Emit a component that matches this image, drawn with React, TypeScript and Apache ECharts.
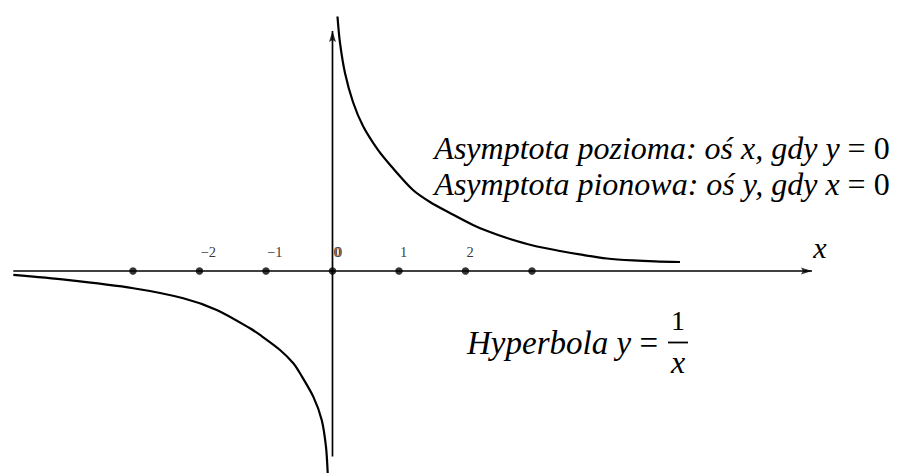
import React, { useEffect, useRef } from "react";
import * as echarts from "echarts";

// Hyperbola branches (data units, 1 unit ≈ 66.5 px)
const rightBranchX = [0.075, 0.113, 0.188, 0.308, 0.459, 0.684, 0.88, 1.211, 1.466, 1.767, 2.113, 2.368, 2.624, 3.015, 3.421, 3.767, 4.128, 4.519, 4.85, 5.226];
const rightBranchY = [3.827, 3.429, 2.977, 2.541, 2.18, 1.82, 1.579, 1.218, 1.038, 0.872, 0.692, 0.586, 0.496, 0.383, 0.301, 0.241, 0.188, 0.158, 0.143, 0.135];
const leftBranchX = [-4.8, -3.997, -2.995, -2.244, -1.741, -1.241, -1.09, -0.789, -0.589, -0.489, -0.289, -0.162, -0.098, -0.072];
const leftBranchY = [-0.06, -0.135, -0.26, -0.411, -0.586, -0.862, -0.962, -1.188, -1.388, -1.538, -1.89, -2.241, -2.642, -3.038];

// Points marked on the x axis
const dotXs = [-3, -2, -1, 0, 1, 2, 3];
// Tick labels
const tickValues = [-2, -1, 0, 1, 2];
const tickLabels = ["−2", "−1", "0", "1", "2"];

// Drawn axis extents
const xAxisExtent = [-4.8, 7.21];
const yAxisExtent = [-2.79, 3.61];

// Visible window
const xRange = [-5, 8.79];
const yRange = [-3.038, 4.075];

const serif = "Liberation Serif";

const asymText =
  "{i|Asymptota pozioma: oś x, gdy y}{r| = 0}\n{i|Asymptota pionowa: oś y, gdy x}{r| = 0}";

export default function App() {
  const ref = useRef<HTMLDivElement>(null);

  useEffect(() => {
    if (!ref.current) return;
    const chart = echarts.init(ref.current, undefined, { renderer: "svg" });
    const black = "#000";
    const rich = (size: number, lh: number) => ({
      i: { fontFamily: serif, fontStyle: "italic", fontSize: size, lineHeight: lh, fill: black, color: black },
      r: { fontFamily: serif, fontStyle: "normal", fontSize: size, lineHeight: lh, fill: black, color: black },
    });
    const tickLabel = (dx: number, dy: number) => ({
      show: true,
      formatter: (p: any) => p.name,
      position: [dx, dy],
      align: "left",
      verticalAlign: "middle",
      fontFamily: serif,
      fontSize: 14.5,
      color: black,
      textBorderWidth: 0,
    });

    chart.setOption({
      animation: false,
      grid: { left: 0, right: 0, top: 0, bottom: 0, containLabel: false },
      xAxis: { type: "value", min: xRange[0], max: xRange[1], show: false },
      yAxis: { type: "value", min: yRange[0], max: yRange[1], show: false },
      series: [
        {
          type: "line",
          data: [[xAxisExtent[0], 0], [xAxisExtent[1], 0]],
          symbol: "none",
          lineStyle: { color: black, width: 1.7 },
          silent: true,
        },
        {
          type: "line",
          data: [[0, yAxisExtent[0]], [0, yAxisExtent[1]]],
          symbol: "none",
          lineStyle: { color: black, width: 1.7 },
          silent: true,
        },
        {
          type: "scatter",
          silent: true,
          itemStyle: { color: black },
          data: [
            {
              value: [xAxisExtent[1], 0],
              symbol: "path://M0,0L11,3.5L0,7L2,3.5Z",
              symbolSize: [11, 7],
              symbolOffset: [-5.5, 0],
            },
            {
              value: [0, yAxisExtent[1]],
              symbol: "path://M3.5,0L7,11L3.5,9L0,11Z",
              symbolSize: [7, 11],
              symbolOffset: [0, 5.5],
            },
          ],
        },
        {
          type: "line",
          data: leftBranchX.map((x, i) => [x, leftBranchY[i]]),
          symbol: "none",
          smooth: 0.3,
          lineStyle: { color: black, width: 2.2 },
          silent: true,
        },
        {
          type: "line",
          data: rightBranchX.map((x, i) => [x, rightBranchY[i]]),
          symbol: "none",
          smooth: 0.3,
          lineStyle: { color: black, width: 2.2 },
          silent: true,
        },
        {
          type: "scatter",
          data: dotXs.map((x) => [x, 0]),
          symbol: "circle",
          symbolSize: 7.5,
          itemStyle: { color: black },
          silent: true,
          z: 5,
        },
        {
          type: "scatter",
          data: tickValues.map((x, i) => ({ value: [x, 0], name: tickLabels[i] })),
          symbolSize: 1,
          itemStyle: { color: "rgba(0,0,0,0)" },
          silent: true,
          label: tickLabel(1.5, -18),
        },
        {
          type: "scatter",
          data: [{ value: [0, 0], name: "0" }],
          symbolSize: 1,
          itemStyle: { color: "rgba(0,0,0,0)" },
          silent: true,
          label: tickLabel(3, -18.5),
        },
      ],
      graphic: [
        {
          type: "text",
          x: 662,
          y: 166,
          style: { text: asymText, rich: rich(32, 35.5), align: "center", verticalAlign: "middle", fill: black },
        },
        {
          type: "text",
          x: 467,
          y: 343,
          style: { text: "Hyperbola y", fontFamily: serif, fontStyle: "italic", fontSize: 33, align: "left", verticalAlign: "middle", fill: black },
        },
        {
          type: "text",
          x: 658,
          y: 343,
          style: { text: "=", fontFamily: serif, fontSize: 33, align: "right", verticalAlign: "middle", fill: black },
        },
        {
          type: "text",
          x: 678,
          y: 320,
          style: { text: "1", fontFamily: serif, fontSize: 28, align: "center", verticalAlign: "middle", fill: black },
        },
        {
          type: "line",
          shape: { x1: 668, y1: 342.5, x2: 688, y2: 342.5 },
          style: { stroke: black, lineWidth: 1.8 },
        },
        {
          type: "text",
          x: 678,
          y: 362,
          style: { text: "x", fontFamily: serif, fontStyle: "italic", fontSize: 32, align: "center", verticalAlign: "middle", fill: black },
        },
        {
          type: "text",
          x: 820,
          y: 247,
          style: { text: "x", fontFamily: serif, fontStyle: "italic", fontSize: 30, align: "center", verticalAlign: "middle", fill: black },
        },
      ],
    });

    return () => chart.dispose();
  }, []);

  return (
    <div
      ref={ref}
      style={{ position: "absolute", left: 0, top: 0, width: 917, height: 473, background: "#fff" }}
    />
  );
}
